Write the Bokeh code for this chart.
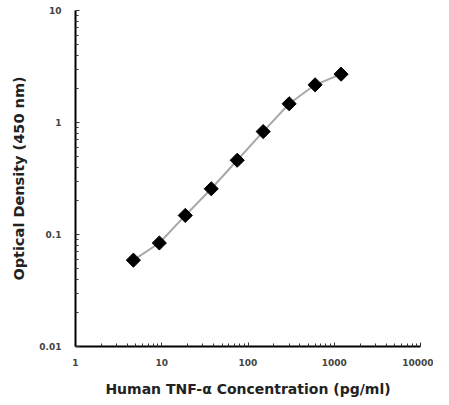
import math
from bokeh.plotting import figure
from bokeh.models import FixedTicker
from bokeh.embed import file_html
from bokeh.resources import INLINE

# Data
concentration = [4.69, 9.38, 18.75, 37.5, 75, 150, 300, 600, 1200]
optical_density = [0.059, 0.084, 0.148, 0.256, 0.46, 0.83, 1.47, 2.17, 2.7]

x_ticks = [1, 10, 100, 1000, 10000]
x_tick_labels = ["1", "10", "100", "1000", "10000"]
y_ticks = [0.01, 0.1, 1, 10]
y_tick_labels = ["0.01", "0.1", "1", "10"]

p = figure(width=433, height=399, x_axis_type="log", y_axis_type="log",
           x_range=(1, 10000), y_range=(0.01, 10),
           output_backend="svg", toolbar_location=None,
           min_border_left=75, min_border_right=13, min_border_top=10, min_border_bottom=52)

p.line(concentration, optical_density, line_color="#a8a8a8", line_width=2)
p.scatter(concentration, optical_density, marker="square", size=10, angle=math.pi / 4,
          fill_color="black", line_color="black")

p.xgrid.visible = False
p.ygrid.visible = False
p.outline_line_color = None

x_minor = [m * 10 ** d for d in range(0, 4) for m in range(2, 10)]
y_minor = [m * 10 ** d for d in range(-2, 1) for m in range(2, 10)]
p.xaxis.ticker = FixedTicker(ticks=x_ticks, minor_ticks=x_minor)
p.yaxis.ticker = FixedTicker(ticks=y_ticks, minor_ticks=y_minor)
p.xaxis.major_label_overrides = {t: l for t, l in zip(x_ticks, x_tick_labels)}
p.yaxis.major_label_overrides = {t: l for t, l in zip(y_ticks, y_tick_labels)}

for ax in (p.xaxis, p.yaxis):
    ax.axis_line_color = "black"
    ax.axis_line_width = 2
    ax.major_tick_in = 4
    ax.major_tick_out = 0
    ax.minor_tick_in = 3
    ax.minor_tick_out = 0
    ax.major_tick_line_color = "#333333"
    ax.minor_tick_line_color = "#333333"
    ax.major_label_text_font = "DejaVu Sans"
    ax.major_label_text_font_style = "bold"
    ax.major_label_text_font_size = "9px"
    ax.major_label_text_color = "#444444"
    ax.axis_label_text_font = "DejaVu Sans"
    ax.axis_label_text_font_style = "bold"
    ax.axis_label_text_color = "#222222"

p.xaxis.axis_label_text_font_size = "14px"
p.yaxis.axis_label_text_font_size = "14.5px"
p.xaxis.axis_label = "Human TNF-α Concentration (pg/ml)"
p.yaxis.axis_label = "Optical Density (450 nm)"
p.xaxis.major_label_standoff = 12
p.yaxis.major_label_standoff = 14
p.xaxis.axis_label_standoff = 12
p.yaxis.axis_label_standoff = 9

open("out.html", "w").write(file_html(p, INLINE))
